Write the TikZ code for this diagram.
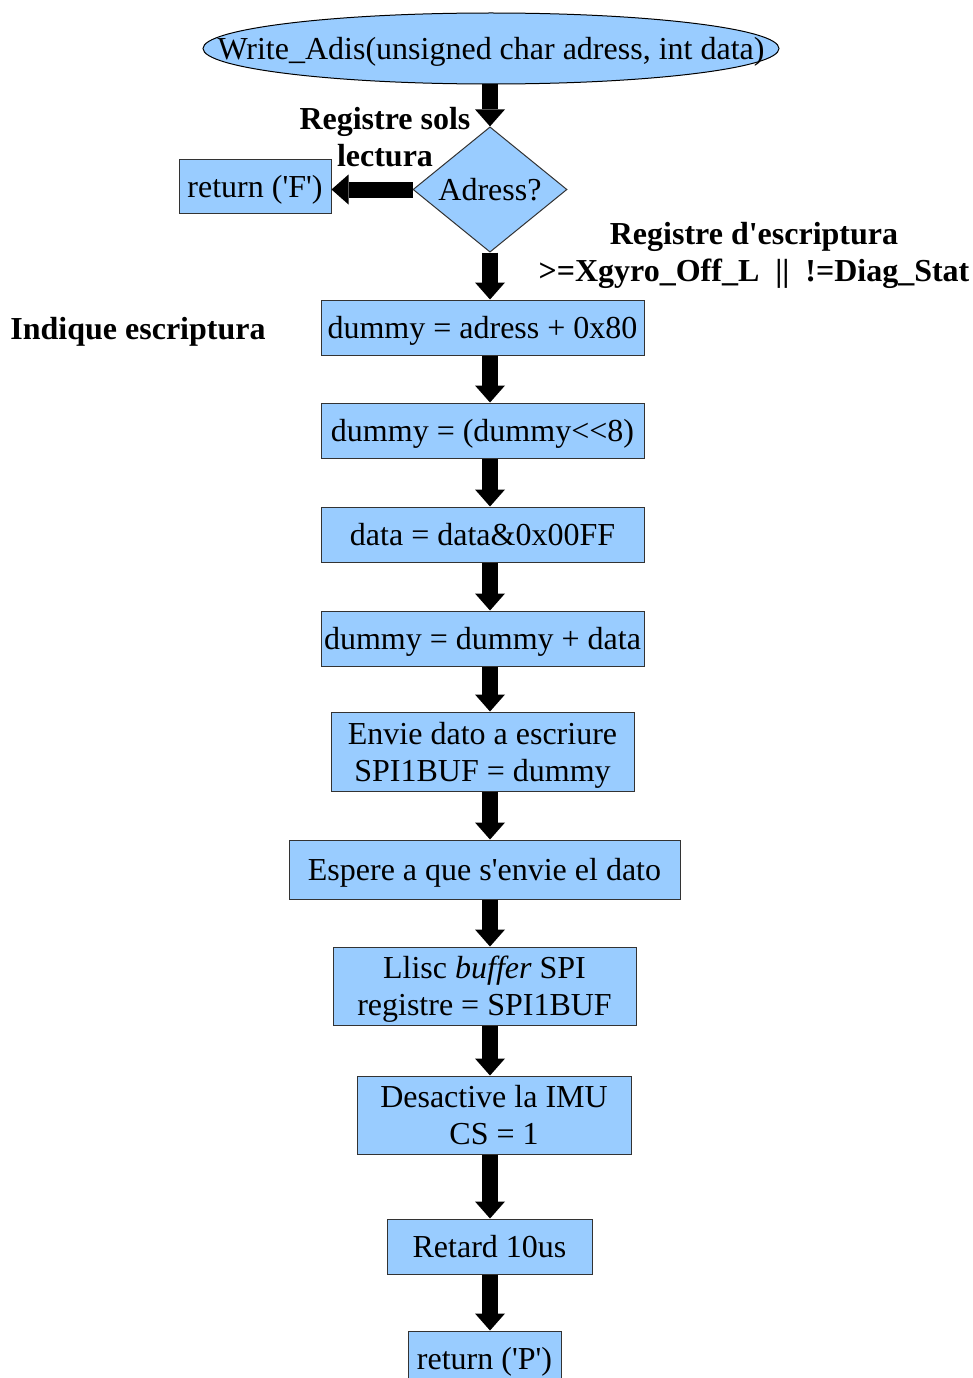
\documentclass[tikz,border=0pt]{standalone}
\usepackage{fontspec}
\setmainfont{Liberation Serif}
\usetikzlibrary{shapes.geometric,arrows.meta}
\newcommand{\sq}{\textquotesingle}
\definecolor{boxblue}{HTML}{99CCFF}
\tikzset{
  txt/.style={font=\fontsize{32}{37}\selectfont, inner sep=0pt, align=center, text depth=0pt},
  lbl/.style={txt, font=\fontsize{32}{37}\selectfont\bfseries},
  stepbox/.style={txt, draw=black!80, line width=1pt, fill=boxblue, rectangle},
  flow/.style={line width=16pt, -{Triangle[width=30pt,length=17pt,line width=0pt]}},
}
\begin{document}
\begin{tikzpicture}[x=1pt,y=-1pt]
\clip (0,0) rectangle (973,1378);
\fill[white] (0,0) rectangle (973,1378);

% start terminal
\node[ellipse, draw=black, line width=1pt, fill=boxblue, inner sep=0pt,
      minimum width=576pt, minimum height=71pt] (start) at (491,48.5) {};
\node[txt] (starttxt) at (start) {Write\_Adis(unsigned char adress, int data)};

% decision
\node[diamond, draw=black!80, line width=1pt, fill=boxblue, inner sep=0pt,
      minimum width=154pt, minimum height=117pt, txt] (dec) at (490,189.5) {Adress?};
\node[stepbox, minimum width=152pt, minimum height=54pt] (retf) at (255,186) {return (\sq F\sq)};

% process steps
\node[stepbox, minimum width=323pt, minimum height=55pt] (s1) at (482.5,327.5) {dummy = adress + 0x80};
\node[stepbox, minimum width=323pt, minimum height=55pt] (s2) at (482.5,430.5) {dummy = (dummy<\kern0pt<8)};
\node[stepbox, minimum width=323pt, minimum height=55pt] (s3) at (482.5,534.5) {data = data\&0x00FF};
\node[stepbox, minimum width=323pt, minimum height=55pt] (s4) at (482.5,638.5) {dummy = dummy + data};
\node[stepbox, minimum width=303pt, minimum height=79pt] (s5) at (482.5,751.5) {Envie dato a escriure\\SPI1BUF = dummy};
\node[stepbox, minimum width=391pt, minimum height=59pt] (s6) at (484.5,869.5) {Espere a que s\sq envie el dato};
\node[stepbox, minimum width=303pt, minimum height=78pt] (s7) at (484.5,986) {Llisc \textit{buffer} SPI\\registre = SPI1BUF};
\node[stepbox, minimum width=274pt, minimum height=78pt] (s8) at (494,1115) {Desactive la IMU\\CS = 1};
\node[stepbox, minimum width=205pt, minimum height=55pt] (s9) at (489.5,1246.5) {Retard 10us};
\node[stepbox, minimum width=153pt, minimum height=55pt] (s10) at (484.5,1358.5) {return (\sq P\sq)};

% annotations
\node[lbl] (lread) at (385,137) {Registre sols\\lectura};
\node[lbl] (lwrite) at (754,252) {Registre d\sq escriptura\\>=Xgyro\_Off\_L \ || \ !=Diag\_Stat};
\node[lbl] (lind) at (138,328) {Indique escriptura};

% connectors
\coordinate (col) at (490,0);
\draw[flow] (start.south -| col) -- (dec.north);
\draw[flow] (dec.west) -- (retf.east |- dec.west);
\draw[flow] (dec.south) -- (s1.north -| col);
\draw[flow] (s1.south -| col) -- (s2.north -| col);
\draw[flow] (s2.south -| col) -- (s3.north -| col);
\draw[flow] (s3.south -| col) -- (s4.north -| col);
\draw[flow] (s4.south -| col) -- (s5.north -| col);
\draw[flow] (s5.south -| col) -- (s6.north -| col);
\draw[flow] (s6.south -| col) -- (s7.north -| col);
\draw[flow] (s7.south -| col) -- (s8.north -| col);
\draw[flow] (s8.south -| col) -- (s9.north -| col);
\draw[flow] (s9.south -| col) -- (s10.north -| col);
\end{tikzpicture}
\end{document}
